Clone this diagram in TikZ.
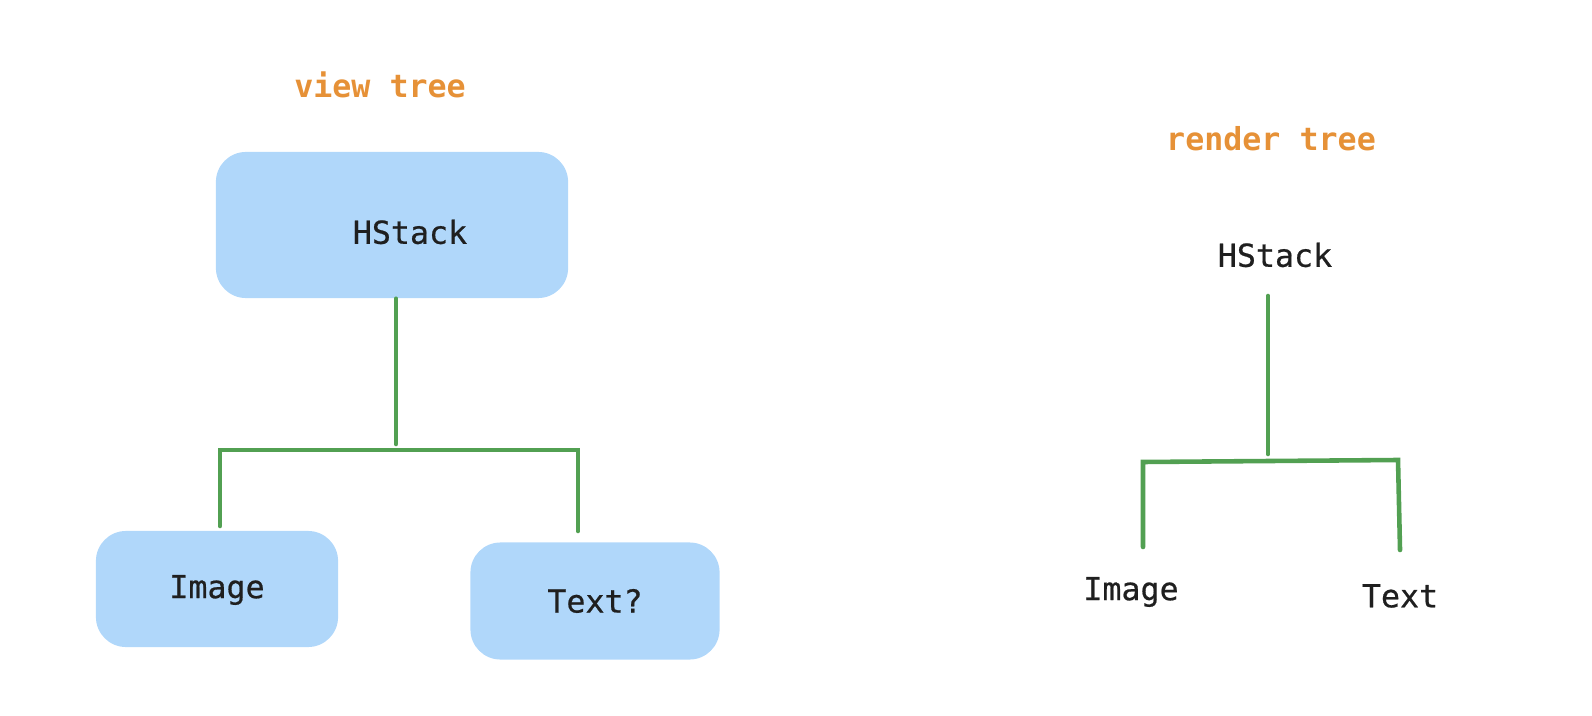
\documentclass[tikz,border=0pt]{standalone}
\usepackage{fontspec}
\setmonofont{DejaVu Sans Mono}
\newfontfamily\lblfont[FakeBold=0.6]{DejaVu Sans Mono}
\definecolor{boxblue}{RGB}{176,215,250}
\definecolor{branchgreen}{RGB}{82,160,82}
\definecolor{titleorange}{RGB}{230,145,55}
\begin{document}
\begin{tikzpicture}[x=0.01cm,y=-0.01cm,
		view/.style={fill=boxblue,rounded corners=0.3cm,inner sep=0pt},
		lbl/.style={font=\lblfont\fontsize{9}{10}\selectfont,text=black!88},
		title/.style={font=\ttfamily\bfseries\fontsize{9}{10}\selectfont,text=titleorange},
		branch/.style={draw=branchgreen,line width=1.3pt,line cap=round}]
	\useasboundingbox (0,0) rectangle (1592,716);
	% view tree
	\node[title] (viewtitle) at (380,85) {view tree};
	\node[view,minimum width=3.52cm,minimum height=1.46cm] (hstack) at (392,225) {};
	\node[view,minimum width=2.42cm,minimum height=1.16cm] (image) at (217,589) {};
	\node[view,minimum width=2.49cm,minimum height=1.17cm] (text) at (595,601) {};
	\node[lbl] (hstacklbl) at (410,232) {HStack};
	\node[lbl] (imagelbl) at (217,590) {Image};
	\node[lbl] (textlbl) at (595,601) {Text?};
	\coordinate (vjoin) at (396,444);
	\coordinate (vleft) at (220,526);
	\coordinate (vright) at (578,531);
	\draw[branch] (hstack.south -| vjoin) -- (vjoin);
	\draw[branch] (vleft) -- (vleft |- 0,450) -- (vright |- 0,450) -- (vright);
	% render tree
	\node[title] (rendertitle) at (1271,139) {render tree};
	\node[lbl] (rhstack) at (1275,255) {HStack};
	\node[lbl] (rimage) at (1131,592) {Image};
	\node[lbl] (rtext) at (1400,596) {Text};
	\coordinate (rjoin) at (1268,454);
	\coordinate (rleft) at (1143,547);
	\coordinate (rright) at (1400,550);
	\draw[branch] (1268,296) -- (rjoin);
	\draw[branch] (rleft) -- (1143,462) -- (1398,460) -- (rright);
\end{tikzpicture}
\end{document}
